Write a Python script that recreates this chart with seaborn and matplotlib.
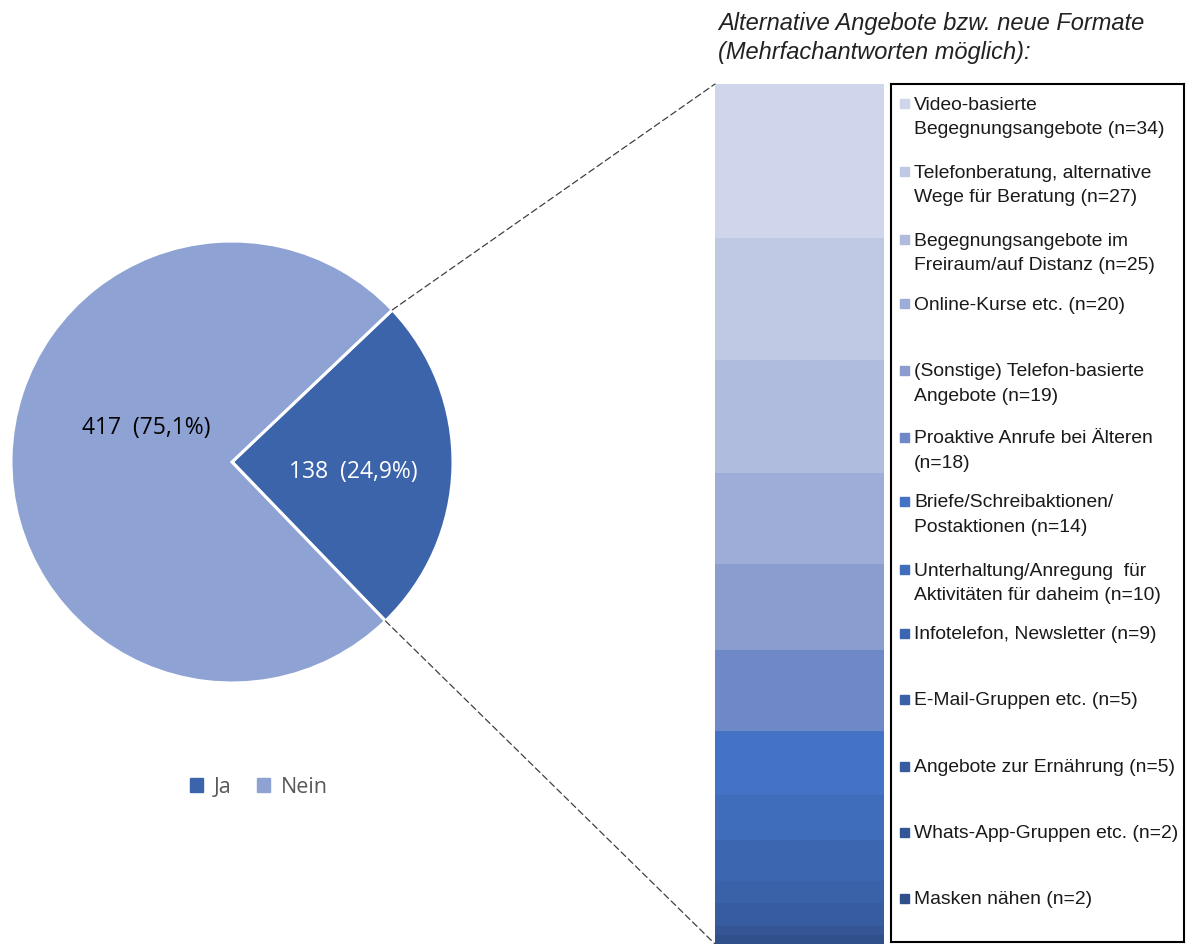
import matplotlib
matplotlib.use("Agg")
import matplotlib.pyplot as plt
from matplotlib.patches import ConnectionPatch, Rectangle
import numpy as np
import seaborn as sns

sns.set_theme(style="white")
plt.rcParams['font.family'] = ['Liberation Sans', 'DejaVu Sans']

# ---- data ----
pie_labels = ["Ja", "Nein"]
pie_values = [138, 417]
pie_texts = ["138  (24,9%)", "417  (75,1%)"]
pie_colors = ["#3C64AA", "#8FA2D4"]

cat_labels = [
    "Video-basierte\nBegegnungsangebote (n=34)",
    "Telefonberatung, alternative\nWege für Beratung (n=27)",
    "Begegnungsangebote im\nFreiraum/auf Distanz (n=25)",
    "Online-Kurse etc. (n=20)",
    "(Sonstige) Telefon-basierte\nAngebote (n=19)",
    "Proaktive Anrufe bei Älteren\n(n=18)",
    "Briefe/Schreibaktionen/\nPostaktionen (n=14)",
    "Unterhaltung/Anregung  für\nAktivitäten für daheim (n=10)",
    "Infotelefon, Newsletter (n=9)",
    "E-Mail-Gruppen etc. (n=5)",
    "Angebote zur Ernährung (n=5)",
    "Whats-App-Gruppen etc. (n=2)",
    "Masken nähen (n=2)",
]
cat_values = [34, 27, 25, 20, 19, 18, 14, 10, 9, 5, 5, 2, 2]
cat_colors = ["#CFD5EA", "#BFC9E4", "#AFBCDE", "#9DADD7", "#8B9CCF", "#6F88C8",
              "#4472C4", "#3F6CBB", "#3C66B0", "#3A62A8", "#375C9F", "#345696", "#30508C"]

W, H = 1186, 945
fig = plt.figure(figsize=(W / 100, H / 100), dpi=100)
fig.patch.set_facecolor("white")

def frac(x0, y0, x1, y1):
    return [x0 / W, 1 - y1 / H, (x1 - x0) / W, (y1 - y0) / H]

# ---- pie ----
axp = fig.add_axes(frac(11, 242, 453, 684))
wedges, _ = axp.pie(pie_values, colors=pie_colors, startangle=43.5, counterclock=False,
                    radius=1, wedgeprops=dict(edgecolor="white", linewidth=2.2))
axp.set_xlim(-1, 1)
axp.set_ylim(-1, 1)
axp.set_aspect("equal")
axp.axis("off")
axp.text(0.55, -0.04, pie_texts[0], color="white", fontsize=16.5, ha="center", va="center",
         family=["Open Sans", "DejaVu Sans"])
axp.text(-0.39, 0.16, pie_texts[1], color="black", fontsize=16.5, ha="center", va="center",
         family=["Open Sans", "DejaVu Sans"])

# pie legend
leg = fig.legend(handles=[Rectangle((0, 0), 1, 1, color=c) for c in pie_colors], labels=pie_labels,
                 loc="center", bbox_to_anchor=(259 / W, 1 - 788 / H), ncol=2, frameon=False,
                 handlelength=0.6, handleheight=0.6, handletextpad=0.5, columnspacing=1.2,
                 prop=dict(family=["Open Sans", "DejaVu Sans"], size=15.5))
for t in leg.get_texts():
    t.set_color("#595959")

# ---- stacked bar ----
axb = fig.add_axes(frac(715, 85, 884, 945))
bottoms = np.concatenate([[0], np.cumsum(cat_values)[:-1]])
axb.bar([0] * len(cat_values), cat_values, bottom=bottoms, color=cat_colors, width=1.0,
        edgecolor="none")
axb.set_xlim(-0.5, 0.5)
axb.set_ylim(sum(cat_values), 0)
axb.axis("off")

# connector lines
ang1 = np.deg2rad(43.5)
ang2 = np.deg2rad(43.5 - 360 * pie_values[0] / sum(pie_values))
for ang, yb in [(ang1, 0), (ang2, sum(cat_values))]:
    con = ConnectionPatch(xyA=(np.cos(ang), np.sin(ang)), coordsA=axp.transData,
                          xyB=(-0.5, yb), coordsB=axb.transData,
                          linestyle=(0, (5, 3)), color="#404040", linewidth=0.9)
    fig.add_artist(con)

# title
fig.text(718 / W, 1 - 38 / H, "Alternative Angebote bzw. neue Formate\n(Mehrfachantworten möglich):",
         fontsize=17, style="italic", ha="left", va="center", color="#222222", linespacing=1.3)

# ---- legend box ----
axl = fig.add_axes(frac(891, 85, 1184, 943))
axl.set_xlim(0, 293)
axl.set_ylim(858, 0)
axl.set_xticks([])
axl.set_yticks([])
for s in axl.spines.values():
    s.set_color("black")
    s.set_linewidth(1.5)
first_line_y = [104, 172, 240, 304, 371, 438, 502, 570, 634, 700, 767, 833, 899]
for lab, col, yy in zip(cat_labels, cat_colors, first_line_y):
    y = yy - 85
    axl.add_patch(Rectangle((9, y - 4.5), 9, 9, color=col))
    axl.text(23, y - 7.5, lab, fontsize=13.9, ha="left", va="top", color="#1a1a1a", linespacing=1.6)

fig.savefig("out.png", dpi=100)
